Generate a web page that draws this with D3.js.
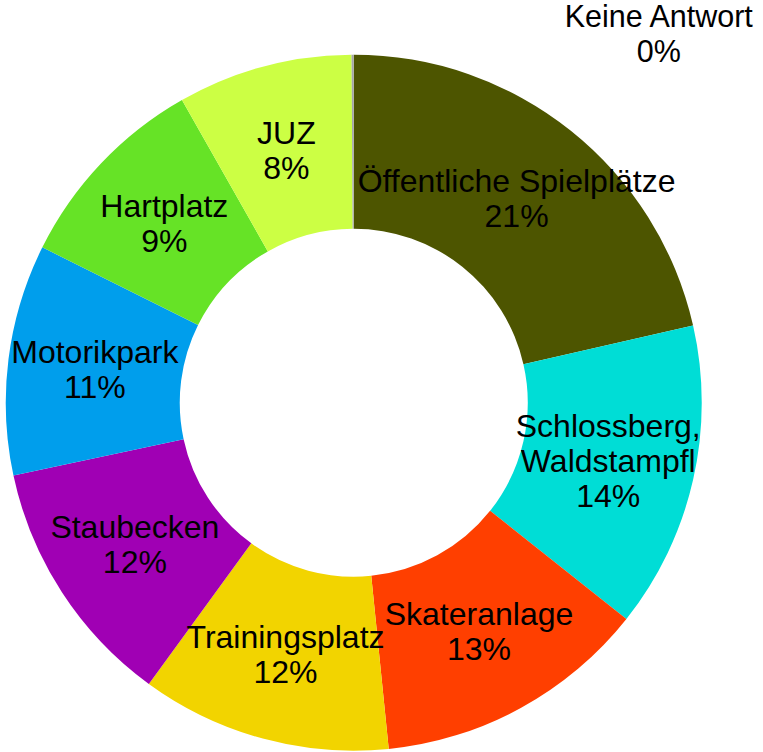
<!DOCTYPE html>
<html>
<head>
<meta charset="utf-8">
<script src="https://cdn.jsdelivr.net/npm/d3@7"></script>
<style>
  html, body { margin: 0; padding: 0; background: #fff; }
  svg { display: block; }
  text { font-family: "Liberation Sans", Arial, sans-serif; font-size: 32px; fill: #000; }
</style>
</head>
<body>
<svg id="chart" width="763" height="752"></svg>
<script>
const categories = ["Öffentliche Spielplätze", "Schlossberg,\nWaldstampfl", "Skateranlage", "Trainingsplatz", "Staubecken", "Motorikpark", "Hartplatz", "JUZ", "Keine Antwort"];
const values = [21.4, 14.2, 12.7, 11.6, 11.6, 10.7, 9.4, 8.1, 0.1];
const colors = ["#4d5500", "#00ddd6", "#ff3f00", "#f2d400", "#a000b4", "#009eec", "#66e326", "#ccff44", "#a6a6a6"];

const svg = d3.select("#chart");
const cx = 353.75, cy = 402.7, outerR = 348, innerR = 174;
const g = svg.append("g").attr("transform", `translate(${cx},${cy})`);

const total = d3.sum(values);
const data = categories.map((c, i) => ({ cat: c, value: values[i], color: colors[i], idx: i }));

const pie = d3.pie().value(d => d.value).sort(null);
const arcs = pie(data);
const arc = d3.arc().innerRadius(innerR).outerRadius(outerR);

g.selectAll("path.slice").data(arcs).enter().append("path")
  .attr("class", "slice")
  .attr("d", arc)
  .attr("fill", d => d.data.color);

const lineH = 35;
arcs.forEach(a => {
  const lines = a.data.cat.split("\n").concat([Math.round(a.data.value / total * 100) + "%"]);
  let x, y, fs = null;
  if (a.data.idx === categories.length - 1) {
    // too small: label placed outside, above-right of the ring
    x = 305; y = -369; fs = "30.5px";
  } else {
    [x, y] = arc.centroid(a);
  }
  const t = g.append("text").attr("text-anchor", "middle");
  if (fs) t.style("font-size", fs);
  lines.forEach((l, i) => {
    t.append("tspan")
      .attr("x", x)
      .attr("y", y + (i - (lines.length - 1) / 2) * lineH + 11)
      .text(l);
  });
});
</script>
</body>
</html>
